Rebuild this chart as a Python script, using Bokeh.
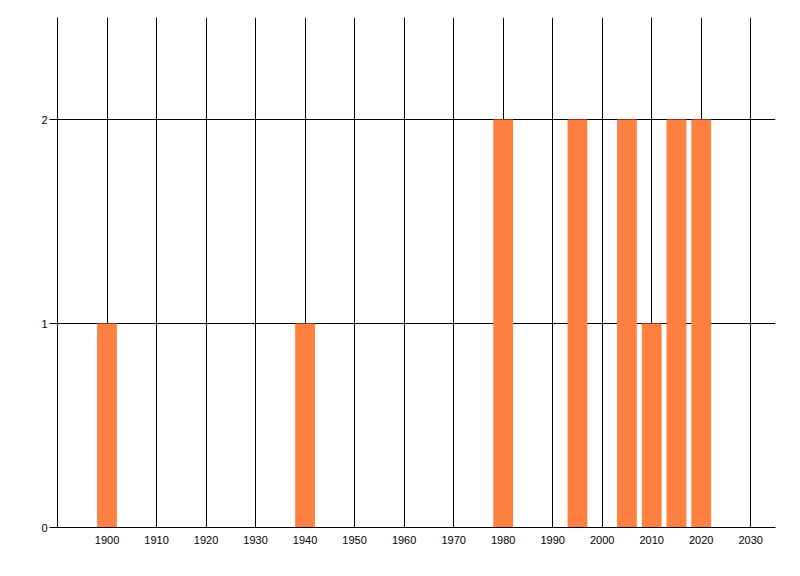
from bokeh.plotting import figure
from bokeh.models import FixedTicker, Range1d
from bokeh.embed import file_html
from bokeh.resources import INLINE

years = [1900, 1940, 1980, 1995, 2005, 2010, 2015, 2020]
counts = [1, 1, 2, 2, 2, 1, 2, 2]
x_ticks = list(range(1900, 2031, 10))
x_grid = list(range(1890, 2031, 10))
y_ticks = [0, 1, 2]

p = figure(
    width=784,
    height=560,
    x_range=Range1d(1890, 2035),
    y_range=Range1d(0, 2.5),
    min_border_left=57,
    min_border_right=9,
    min_border_top=17,
    min_border_bottom=33,
    toolbar_location=None,
    output_backend="svg")

p.vbar(x=years, top=counts, width=4, color="#FF8040", line_color=None)

p.outline_line_color = None
p.background_fill_color = "white"
p.border_fill_color = "white"

# grid: black lines every decade, horizontal at 1 and 2
p.xgrid.ticker = FixedTicker(ticks=x_grid)
p.ygrid.ticker = FixedTicker(ticks=[1, 2])
for g in (p.xgrid, p.ygrid):
    g.grid_line_color = "black"
    g.grid_line_alpha = 1.0
    g.grid_line_width = 1

p.xaxis.ticker = FixedTicker(ticks=x_ticks)
p.xaxis.major_tick_in = 0
p.xaxis.major_tick_out = 0
p.xaxis.minor_tick_line_color = None
p.xaxis.major_label_standoff = 8

p.yaxis.ticker = FixedTicker(ticks=y_ticks)
p.yaxis.major_tick_in = 0
p.yaxis.major_tick_out = 8
p.yaxis.minor_tick_line_color = None
p.yaxis.major_label_standoff = 2

for ax in (p.xaxis, p.yaxis):
    ax.axis_line_color = "black"
    ax.major_tick_line_color = "black"
    ax.major_label_text_color = "black"
    ax.major_label_text_font = "Liberation Sans"
    ax.major_label_text_font_size = "11px"

open("out.html", "w").write(file_html(p, INLINE))
